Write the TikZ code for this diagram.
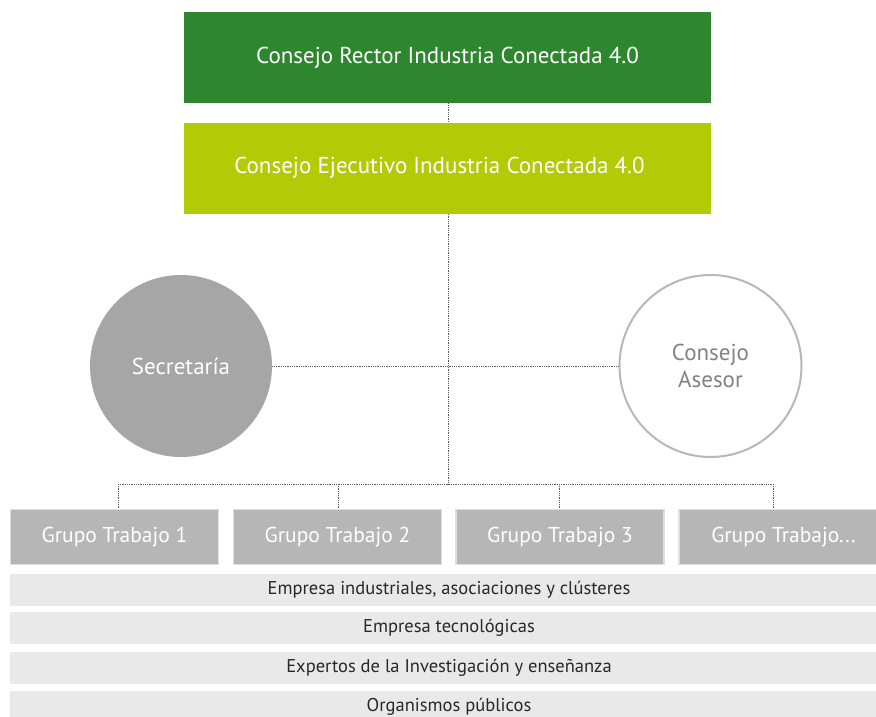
\documentclass[tikz,border=0pt]{standalone}
\usepackage{fontspec}
\setmainfont{PT Sans}
\definecolor{darkgreen}{RGB}{46,134,46}
\definecolor{limegreen}{RGB}{179,203,6}
\definecolor{secgrey}{RGB}{166,166,166}
\definecolor{asegrey}{RGB}{184,184,184}
\definecolor{asetext}{RGB}{130,130,130}
\definecolor{grpfill}{RGB}{182,182,182}
\definecolor{grpedge}{RGB}{222,222,222}
\definecolor{barfill}{RGB}{233,233,233}
\definecolor{bartext}{RGB}{40,40,40}
\definecolor{dotline}{RGB}{90,90,90}
\begin{document}
\begin{tikzpicture}[x=1pt,y=-1pt,
  topbox/.style={rectangle, minimum width=527pt, minimum height=91pt, inner sep=0pt, text=white, font=\fontsize{23}{27}\selectfont},
  circ/.style={circle, minimum size=182pt, inner sep=0pt, align=center, font=\fontsize{23}{27}\selectfont},
  grp/.style={rectangle, fill=grpfill, draw=grpedge, line width=1.2pt, minimum width=208pt, minimum height=55pt, inner sep=0pt, text=white, font=\fontsize{21.5}{25}\selectfont},
  bar/.style={rectangle, fill=barfill, minimum width=878pt, minimum height=32pt, inner sep=0pt, text=bartext, font=\fontsize{18.5}{21}\selectfont},
  conn/.style={draw=dotline, line width=0.9pt, dash pattern=on 0.9pt off 0.9pt}]
\useasboundingbox (0,0) rectangle (876,717);
\fill[white] (0,0) rectangle (876,717);

\node[topbox, fill=darkgreen] (rector) at (447.5,57.5) {Consejo Rector Industria Conectada 4.0};
\node[topbox, fill=limegreen] (ejec) at (447.5,168) {Consejo Ejecutivo Industria Conectada 4.0\hspace*{16pt}};

\node[circ, fill=secgrey, text=white] (sec) at (181,366) {Secretaría};
\node[circ, fill=white, draw=asegrey, line width=2pt, text=asetext] (ase) at (710.5,366) {Consejo\\Asesor};

\node[grp] (g1) at (114.5,537) {Grupo Trabajo 1};
\node[grp] (g2) at (337.5,537) {Grupo Trabajo 2};
\node[grp] (g3) at (560,537) {Grupo Trabajo 3};
\node[grp, minimum width=209pt] (g4) at (783.5,537) {Grupo Trabajo...};

\node[bar] (b1) at (449,590) {Empresa industriales, asociaciones y clústeres};
\node[bar] (b2) at (449,628) {Empresa tecnológicas};
\node[bar] (b3) at (449,668) {Expertos de la Investigación y enseñanza};
\node[bar] (b4) at (449,707) {Organismos públicos};

\coordinate (hub) at (448,484);
\coordinate (h1) at (118,484);
\coordinate (h2) at (338,484);
\coordinate (h3) at (559,484);
\coordinate (h4) at (773,484);

\draw[conn] (448,0 |- rector.south) -- (448,0 |- ejec.north);
\draw[conn] (448,0 |- ejec.south) -- (hub);
\draw[conn] (sec.east) -- (ase.west);
\draw[conn] (h1) -- (h4);
\draw[conn] (h1) -- (h1 |- g1.north);
\draw[conn] (h2) -- (h2 |- g2.north);
\draw[conn] (h3) -- (h3 |- g3.north);
\draw[conn] (h4) -- (h4 |- g4.north);
\end{tikzpicture}
\end{document}
